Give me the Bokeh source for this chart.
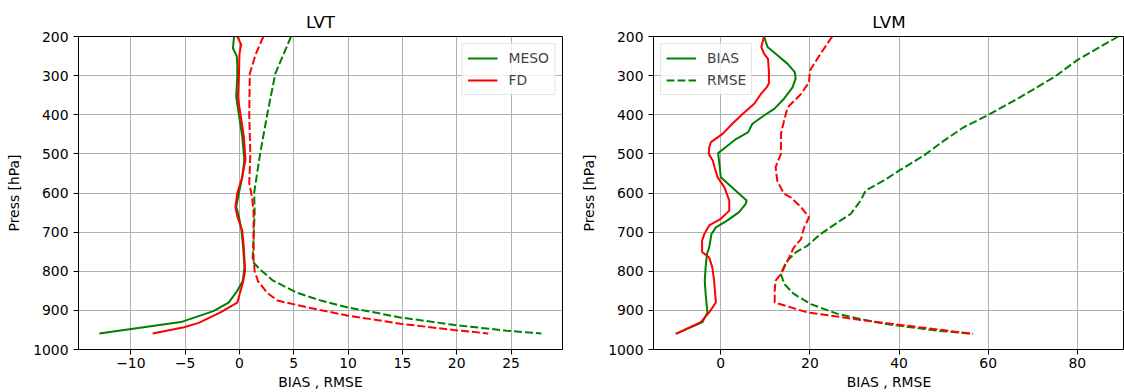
from bokeh.plotting import figure
from bokeh.layouts import row
from bokeh.models import Range1d, FixedTicker, Legend, LegendItem
from bokeh.embed import file_html
from bokeh.resources import INLINE

# ---------------- data: LVT ----------------
lvt_meso_bias_p = [200, 230, 250, 270, 300, 355, 400, 455, 515, 560, 600, 635, 660, 695,
                   740, 790, 825, 850, 880, 902, 930, 959]
lvt_meso_bias = [-0.5, -0.6, -0.25, -0.2, -0.2, -0.3, -0.05, 0.25, 0.45, 0.25, -0.05, -0.3,
                 -0.05, 0.18, 0.34, 0.46, 0.3, -0.2, -1.0, -2.4, -5.4, -12.9]

lvt_fd_bias_p = [200, 220, 245, 300, 355, 400, 455, 515, 560, 600, 635, 660, 695, 740, 798,
                 825, 880, 905, 932, 943, 959]
lvt_fd_bias = [-0.2, 0.15, 0.0, -0.05, -0.15, 0.1, 0.4, 0.55, 0.25, -0.2, -0.37, -0.2, 0.25,
               0.4, 0.52, 0.35, -0.2, -1.75, -3.75, -5.1, -8.0]

lvt_meso_rmse_p = [200, 295, 400, 500, 600, 650, 775, 793, 824, 855, 875, 892, 918, 937, 952, 959]
lvt_meso_rmse = [4.75, 3.3, 2.55, 1.9, 1.35, 1.4, 1.2, 1.8, 3.1, 5.3, 7.5, 9.9, 14.8, 19.7,
                 24.6, 27.8]

lvt_fd_rmse_p = [200, 245, 295, 400, 500, 575, 610, 650, 770, 800, 825, 855, 875, 892, 913,
                 934, 950, 959]
lvt_fd_rmse = [2.2, 1.5, 0.95, 0.9, 1.0, 0.9, 1.15, 1.3, 1.3, 1.4, 1.7, 2.55, 3.5, 6.2, 9.9,
               14.8, 19.7, 22.9]

# ---------------- data: LVM ----------------
lvm_meso_bias_p = [200, 227, 244, 270, 291, 307, 330, 359, 385, 402, 423, 445, 462, 483, 498,
                   526, 560, 619, 628, 649, 670, 688, 705, 739, 756, 790, 824, 858, 905, 930, 960]
lvm_meso_bias = [9.7, 10.5, 12.3, 15.0, 16.6, 16.8, 16.1, 14.2, 12.0, 9.7, 7.1, 6.1, 3.4, 1.1,
                 -0.6, -0.3, 0.0, 5.8, 5.6, 4.1, 1.5, -1.1, -2.1, -2.6, -3.1, -3.4, -3.6, -3.4,
                 -3.0, -4.1, -10.1]

lvm_fd_bias_p = [200, 227, 244, 257, 290, 320, 330, 347, 372, 398, 423, 449, 470, 483, 500, 517,
                 534, 560, 585, 619, 645, 666, 683, 705, 722, 751, 765, 790, 824, 880, 905, 930, 960]
lvm_fd_bias = [9.7, 9.1, 9.7, 10.6, 10.8, 10.8, 10.3, 9.0, 7.5, 4.9, 2.6, 0.4, -2.2, -2.6, -2.7,
               -1.8, -1.4, -0.7, 0.8, 1.9, 1.9, 0.0, -2.6, -3.7, -4.2, -4.2, -2.6, -1.9, -1.5,
               -1.1, -2.6, -4.5, -10.1]

lvm_meso_rmse_p = [200, 261, 304, 355, 402, 432, 466, 504, 543, 568, 594, 619, 653, 670, 705,
                   735, 752, 777, 807, 832, 858, 884, 909, 926, 934, 952, 960]
lvm_meso_rmse = [89.2, 79.9, 74.8, 67.2, 59.8, 54.5, 50.1, 45.6, 40.0, 36.6, 32.5, 31.4, 29.2,
                 26.9, 22.4, 19.4, 16.8, 14.6, 13.5, 14.2, 16.4, 20.2, 26.2, 32.9, 36.5, 48.6, 56.6]

lvm_fd_rmse_p = [200, 244, 287, 317, 347, 381, 415, 449, 500, 534, 570, 602, 611, 636, 662, 688,
                 718, 739, 773, 807, 824, 850, 880, 905, 922, 934, 960]
lvm_fd_rmse = [25.0, 22.4, 20.0, 19.8, 18.0, 15.0, 14.2, 13.5, 13.5, 12.3, 12.7, 14.2, 15.7,
               18.0, 19.8, 18.7, 18.0, 16.4, 15.0, 13.5, 12.3, 12.1, 12.1, 19.4, 29.9, 38.1, 56.6]

y_ticks = [200, 300, 400, 500, 600, 700, 800, 900, 1000]
lvt_x_ticks = [-10, -5, 0, 5, 10, 15, 20, 25]
lvm_x_ticks = [0, 20, 40, 60, 80]

FONT = "DejaVu Sans"
GREEN = "green"
RED = "red"
DASH = "8 3"
FRAME_H = 313
B_TOP = 36
B_BOTTOM = 43


def make_fig(title, xr, xticks, frame_w, bl, br):
    p = figure(frame_width=frame_w, frame_height=FRAME_H,
               output_backend="svg", toolbar_location=None,
               x_range=Range1d(*xr), y_range=Range1d(1000, 200),
               min_border_left=bl, min_border_right=br, min_border_top=B_TOP,
               min_border_bottom=B_BOTTOM)
    p.title.text = title
    p.title.align = "center"
    p.title.text_font = FONT
    p.title.text_font_size = "16.7px"
    p.title.text_font_style = "normal"
    p.title.text_color = "black"
    p.outline_line_color = "black"
    p.outline_line_alpha = 1
    p.outline_line_width = 1
    for ax in (p.xaxis[0], p.yaxis[0]):
        ax.axis_line_color = "black"
        ax.major_tick_line_color = "black"
        ax.major_tick_out = 5
        ax.major_tick_in = 0
        ax.minor_tick_line_color = None
        ax.major_label_text_font = FONT
        ax.major_label_text_font_size = "13.9px"
        ax.major_label_text_color = "black"
        ax.axis_label_text_font = FONT
        ax.axis_label_text_font_size = "13.9px"
        ax.axis_label_text_font_style = "normal"
        ax.axis_label_text_color = "black"
        ax.major_label_text_line_height = 1.0
        ax.axis_label_text_line_height = 1.0
    p.xaxis[0].ticker = FixedTicker(ticks=xticks)
    p.xaxis[0].major_label_overrides = {t: ("\u2212" + str(-t)) for t in xticks if t < 0}
    p.yaxis[0].ticker = FixedTicker(ticks=y_ticks)
    p.xaxis[0].axis_label = "BIAS , RMSE"
    p.yaxis[0].axis_label = "Press [hPa]"
    p.xaxis[0].major_label_standoff = 3
    p.xaxis[0].axis_label_standoff = 3
    p.yaxis[0].major_label_standoff = 5
    p.yaxis[0].axis_label_standoff = 8
    p.grid.grid_line_color = "#b0b0b0"
    p.grid.grid_line_width = 1
    p.grid.grid_line_alpha = 1
    return p


def style_legend(lg):
    lg.label_text_font = FONT
    lg.label_text_font_size = "13.9px"
    lg.glyph_width = 30
    lg.glyph_height = 18
    lg.label_height = 18
    lg.label_standoff = 11
    lg.padding = 5
    lg.spacing = 4
    lg.margin = 7
    lg.border_line_color = "#cccccc"
    lg.border_line_width = 1
    lg.background_fill_alpha = 0.8


# ---- left: LVT ----
p1 = make_fig("LVT", (-14.82, 29.74), lvt_x_ticks, 484, 78, 16)
r_meso = p1.line(lvt_meso_bias, lvt_meso_bias_p, line_color=GREEN, line_width=2)
r_fd = p1.line(lvt_fd_bias, lvt_fd_bias_p, line_color=RED, line_width=2)
p1.line(lvt_meso_rmse, lvt_meso_rmse_p, line_color=GREEN, line_width=2, line_dash=DASH)
p1.line(lvt_fd_rmse, lvt_fd_rmse_p, line_color=RED, line_width=2, line_dash=DASH)
lg1 = Legend(items=[LegendItem(label="MESO", renderers=[r_meso]),
                    LegendItem(label="FD", renderers=[r_fd])], location="top_right")
style_legend(lg1)
p1.add_layout(lg1)

# ---- right: LVM ----
p2 = make_fig("LVM", (-15.1, 90.6), lvm_x_ticks, 471, 75, 0)
r_bias = p2.line(lvm_meso_bias, lvm_meso_bias_p, line_color=GREEN, line_width=2)
p2.line(lvm_fd_bias, lvm_fd_bias_p, line_color=RED, line_width=2)
r_rmse = p2.line(lvm_meso_rmse, lvm_meso_rmse_p, line_color=GREEN, line_width=2, line_dash=DASH)
p2.line(lvm_fd_rmse, lvm_fd_rmse_p, line_color=RED, line_width=2, line_dash=DASH)
lg2 = Legend(items=[LegendItem(label="BIAS", renderers=[r_bias]),
                    LegendItem(label="RMSE", renderers=[r_rmse])], location="top_left")
style_legend(lg2)
p2.add_layout(lg2)

layout = row(p1, p2)
open("out.html", "w").write(file_html(layout, INLINE))
